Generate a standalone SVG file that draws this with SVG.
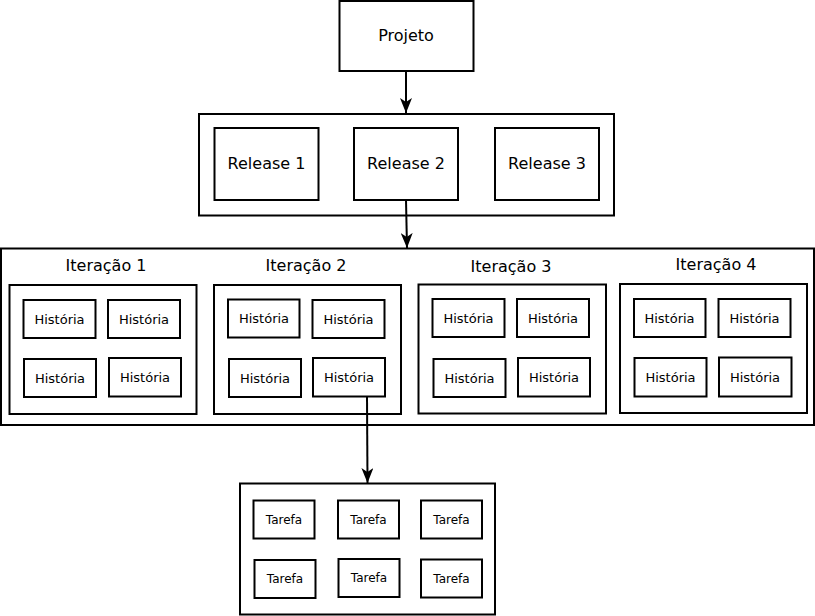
<svg xmlns="http://www.w3.org/2000/svg" width="815" height="616" viewBox="0 0 815 616">
<defs>
<style>
rect{fill:#fff;stroke:#000;stroke-width:2}
.c{fill:none;stroke:#000;stroke-width:2}
text{font-family:"DejaVu Sans",sans-serif;fill:#000;text-anchor:middle}
.l{font-size:16px}
.h{font-size:13px}
.t{font-size:12px}
</style>
<marker id="a" markerUnits="userSpaceOnUse" viewBox="0 0 15 12" markerWidth="15" markerHeight="12" refX="15" refY="6" orient="auto">
<path d="M0,0 L15,6 L0,12 L4,6 Z" fill="#000"/>
</marker>
</defs>
<rect width="815" height="616" style="fill:#fff;stroke:none"/>
<g id="projeto"><rect x="339.5" y="1" width="134" height="70"/><text class="l" x="406" y="41">Projeto</text></g>
<g id="releases">
<rect x="199" y="114" width="415" height="101.5"/>
<g id="release1"><rect x="214.5" y="128" width="104" height="72"/><text class="l" x="266.5" y="169">Release 1</text></g>
<g id="release2"><rect x="354" y="128" width="104" height="72"/><text class="l" x="406" y="169">Release 2</text></g>
<g id="release3"><rect x="495" y="128" width="104" height="72"/><text class="l" x="547" y="169">Release 3</text></g>
</g>
<g id="iteracoes">
<rect x="1" y="248.5" width="813" height="176.5"/>
<g id="iter1"><text class="l" x="106" y="271">Iteração 1</text><rect x="9.5" y="285" width="187" height="129"/>
<g><rect x="23.5" y="300" width="72" height="38"/><text class="h" x="59.5" y="323.5">História</text></g>
<g><rect x="108" y="300" width="72" height="38"/><text class="h" x="144" y="323.5">História</text></g>
<g><rect x="24" y="359" width="72" height="38"/><text class="h" x="60" y="382.5">História</text></g>
<g><rect x="109" y="358" width="72" height="38.5"/><text class="h" x="145" y="381.5">História</text></g>
</g>
<g id="iter2"><text class="l" x="306" y="271">Iteração 2</text><rect x="214" y="285" width="187" height="129"/>
<g><rect x="228" y="299.5" width="71.5" height="38"/><text class="h" x="264" y="322.5">História</text></g>
<g><rect x="312.5" y="300" width="72" height="38"/><text class="h" x="348.5" y="323.5">História</text></g>
<g><rect x="229" y="359" width="72" height="38"/><text class="h" x="265" y="382.5">História</text></g>
<g><rect x="313" y="358" width="72" height="38.5"/><text class="h" x="349" y="381.5">História</text></g>
</g>
<g id="iter3"><text class="l" x="511" y="272">Iteração 3</text><rect x="418.5" y="284.5" width="187.5" height="129"/>
<g><rect x="432.5" y="299" width="72" height="38"/><text class="h" x="468.5" y="322.5">História</text></g>
<g><rect x="517" y="299" width="72" height="38"/><text class="h" x="553" y="322.5">História</text></g>
<g><rect x="433.5" y="359" width="72" height="38"/><text class="h" x="469.5" y="382.5">História</text></g>
<g><rect x="518" y="358" width="72" height="38.5"/><text class="h" x="554" y="381.5">História</text></g>
</g>
<g id="iter4"><text class="l" x="716" y="270">Iteração 4</text><rect x="620" y="284" width="187" height="129"/>
<g><rect x="634" y="299" width="71.5" height="38"/><text class="h" x="669.5" y="322.5">História</text></g>
<g><rect x="718.5" y="299" width="72" height="38"/><text class="h" x="754.5" y="322.5">História</text></g>
<g><rect x="634.5" y="358" width="72" height="38.5"/><text class="h" x="670.5" y="382">História</text></g>
<g><rect x="719" y="357.5" width="72.5" height="39"/><text class="h" x="755" y="381.5">História</text></g>
</g>
</g>
<g id="tarefas">
<rect x="240" y="483.5" width="255" height="131"/>
<g><rect x="253.5" y="500.5" width="61" height="38"/><text class="t" x="284" y="523.5">Tarefa</text></g>
<g><rect x="338" y="500.5" width="61" height="38"/><text class="t" x="368.5" y="523.5">Tarefa</text></g>
<g><rect x="421" y="500.5" width="61" height="38"/><text class="t" x="451.5" y="523.5">Tarefa</text></g>
<g><rect x="254.5" y="560" width="61" height="38"/><text class="t" x="285" y="583">Tarefa</text></g>
<g><rect x="338.5" y="559" width="61" height="38"/><text class="t" x="369" y="582">Tarefa</text></g>
<g><rect x="421" y="559.5" width="61" height="38"/><text class="t" x="451.5" y="583">Tarefa</text></g>
</g>
<g id="connectors">
<path class="c" d="M406,71 L406,113" marker-end="url(#a)"/>
<path class="c" d="M406,200 L407,248" marker-end="url(#a)"/>
<path class="c" d="M367,396.5 L367.5,483" marker-end="url(#a)"/>
</g>
</svg>
